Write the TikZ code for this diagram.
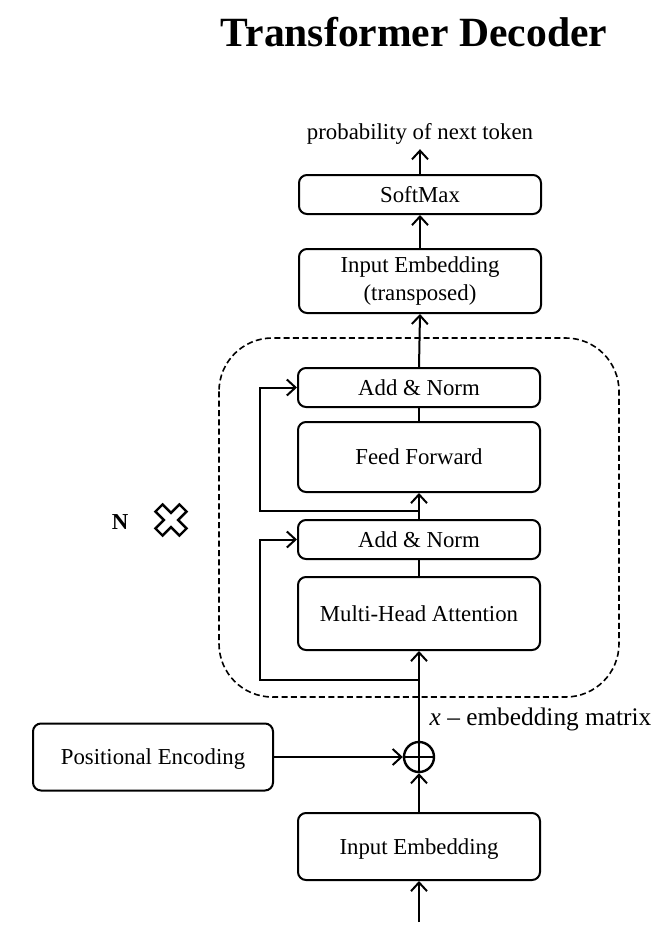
\documentclass[tikz,border=0pt]{standalone}
\usepackage{fontspec}
\setmainfont{Liberation Serif}
\usetikzlibrary{arrows.meta}
\begin{document}
\begin{tikzpicture}[x=0.75pt,y=-0.75pt,
  box/.style={draw,rounded corners=6pt,line width=1.5pt,minimum width=242*0.75pt,inner sep=0pt,align=center,font=\fontsize{17.1}{21}\selectfont},
  one/.style={text depth=0pt},
  arr/.style={line width=1.5pt,-{Straight Barb[length=6.5pt,width=12pt,line width=1.5pt]}},
  ln/.style={line width=1.5pt},
  lbl/.style={font=\fontsize{17.1}{21}\selectfont}]
\useasboundingbox (0,0) rectangle (670,935);
\node[font=\fontsize{31.2}{35}\selectfont\bfseries] (title) at (414,32) {Transformer Decoder};
\node[lbl] (prob) at (420,134) {probability of next token};
\node[box,one,minimum height=39*0.75pt] (sm) at (420,194.5) {SoftMax};
\node[box,minimum height=64*0.75pt] (iet) at (420,281) {Input Embedding\\(transposed)};
\draw[line width=1.2pt,dash pattern=on 4.5pt off 2.5pt,rounded corners=40pt] (219,338) rectangle (619,697);
\node[box,one,minimum height=39*0.75pt] (an2) at (419,387.5) {Add \& Norm};
\node[box,one,minimum height=70*0.75pt] (ff) at (419,457) {Feed Forward};
\node[box,one,minimum height=39*0.75pt] (an1) at (419,539.5) {Add \& Norm};
\node[box,one,minimum height=73*0.75pt] (mha) at (419,613.5) {Multi-Head Attention};
\node[circle,draw,line width=1.8pt,minimum size=30*0.75pt,inner sep=0pt] (plus) at (419,757) {};
\draw[line width=1.8pt] (plus.north) -- (plus.south) (plus.west) -- (plus.east);
\node[font=\fontsize{19}{23}\selectfont,anchor=west] (xlab) at (425,719) {\textit{x} -- embedding matrix};
\node[box,one,minimum width=240*0.75pt,minimum height=67*0.75pt] (pe) at (153,757) {Positional Encoding};
\node[box,one,minimum height=67*0.75pt] (ie) at (419,846.5) {Input Embedding};
\coordinate (in) at (419,922);
\node[font=\fontsize{17.1}{21}\selectfont\bfseries] (nlab) at (120,522) {N};
\begin{scope}[shift={(171,520)},rotate=45]
\draw[line width=1.8pt,line join=miter] (-5,-17) -- (5,-17) -- (5,-5) -- (17,-5) -- (17,5) -- (5,5) -- (5,17) -- (-5,17) -- (-5,5) -- (-17,5) -- (-17,-5) -- (-5,-5) -- cycle;
\end{scope}
% connectors
\draw[arr] (in) -- (ie.south);
\draw[arr] (ie.north) -- (plus.south);
\draw[arr] (pe.east) -- (plus.west);
\draw[arr] (plus.north) -- (mha.south);
\draw[ln] (mha.north) -- (an1.south);
\draw[arr] (an1.north) -- (ff.south);
\draw[ln] (ff.north) -- (an2.south);
\draw[arr] (an2.north) -- (iet.south);
\draw[arr] (iet.north) -- (sm.south);
\draw[arr] (sm.north) -- (prob.south);
\coordinate (r1) at (419,680);
\coordinate (l1) at (260,680);
\coordinate (r2) at (419,511);
\draw[arr] (r1) -- (l1) |- (an1.west);
\draw[arr] (r2) -- (r2 -| l1) |- (an2.west);
\end{tikzpicture}
\end{document}
